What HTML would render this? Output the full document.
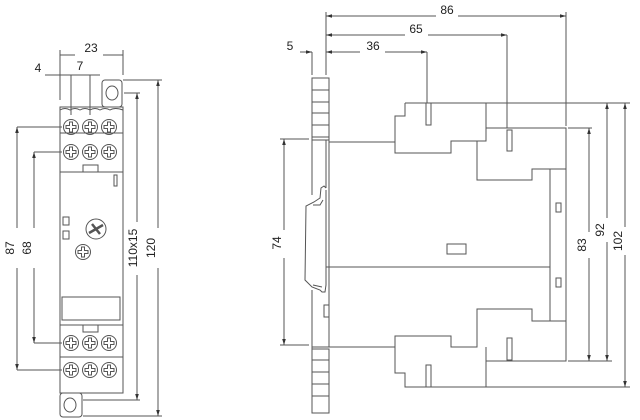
<!DOCTYPE html>
<html><head><style>html,body{margin:0;padding:0;background:#fff}svg{display:block}</style></head>
<body>
<svg width="640" height="420" viewBox="0 0 640 420" xmlns="http://www.w3.org/2000/svg" font-family="Liberation Sans, sans-serif" font-size="12" fill="none" stroke="#555" stroke-width="1">
<defs>
<marker id="a" viewBox="0 0 10 10" refX="10" refY="5" markerWidth="6" markerHeight="6" orient="auto-start-reverse"><path d="M0,2 L10,5 L0,8 z" fill="#333" stroke="none"/></marker>
<g id="s">
<circle cx="0" cy="0" r="7.5"/><path d="M-5,-1.5 H-1.5 V-5 H1.5 V-1.5 H5 V1.5 H1.5 V5 H-1.5 V1.5 H-5 Z"/>
</g>
</defs>
<!-- LEFT VIEW -->
<g>
<path d="M60,107 H123 V393 H60 Z"/>
<rect x="102" y="80" width="20" height="27" rx="3"/>
<ellipse cx="112" cy="93" rx="6" ry="7"/>
<rect x="60" y="393" width="22" height="24" rx="3"/>
<ellipse cx="70" cy="405" rx="6" ry="7"/>
<line x1="60" y1="133" x2="123" y2="133"/>
<line x1="60" y1="172" x2="123" y2="172"/>
<line x1="60" y1="325" x2="123" y2="325"/>
<line x1="60" y1="357" x2="123" y2="357"/>
<path d="M60,110 q5,-3 10,0 q5,-3 10,0 q5,-3 10,0 q5,-3 10,0 q5,-3 10,0 q5,-3 13,0"/>
<rect x="83" y="165" width="15" height="7"/>
<rect x="83" y="325" width="15" height="7"/>
<rect x="114" y="175" width="3" height="11"/>
<rect x="63" y="217" width="6" height="8"/>
<rect x="63" y="231" width="6" height="8"/>
<rect x="62" y="297" width="58" height="23"/>
<use href="#s" x="71" y="127"/><use href="#s" x="90" y="127"/><use href="#s" x="109" y="127"/>
<use href="#s" x="71" y="152"/><use href="#s" x="90" y="152"/><use href="#s" x="109" y="152"/>
<use href="#s" x="71" y="343"/><use href="#s" x="90" y="343"/><use href="#s" x="109" y="343"/>
<use href="#s" x="71" y="370"/><use href="#s" x="90" y="370"/><use href="#s" x="109" y="370"/>
<circle cx="96" cy="229" r="10"/>
<path d="M89,233 L103,225 M92,224 L100,234" stroke-width="2.5"/>
<use href="#s" x="83" y="252"/>
<!-- dims -->
<line x1="60" y1="50" x2="60" y2="100"/><line x1="123" y1="50" x2="123" y2="75"/>
<line x1="60" y1="55" x2="75" y2="55"/><line x1="103" y1="55" x2="123" y2="55"/>
<text x="91" y="52" text-anchor="middle" fill="#222" stroke="none">23</text>
<line x1="45" y1="75" x2="100" y2="75"/>
<line x1="71" y1="75" x2="71" y2="115"/><line x1="90" y1="75" x2="90" y2="115"/>
<text x="38" y="72" text-anchor="middle" fill="#222" stroke="none">4</text>
<text x="80" y="70" text-anchor="middle" fill="#222" stroke="none">7</text>
<line x1="17" y1="127" x2="17" y2="228" marker-start="url(#a)"/><line x1="17" y1="268" x2="17" y2="370" marker-end="url(#a)"/>
<line x1="17" y1="127" x2="62" y2="127"/><line x1="17" y1="370" x2="62" y2="370"/>
<line x1="34" y1="152" x2="34" y2="228" marker-start="url(#a)"/><line x1="34" y1="268" x2="34" y2="343" marker-end="url(#a)"/>
<line x1="34" y1="152" x2="62" y2="152"/><line x1="34" y1="343" x2="62" y2="343"/>
<text transform="translate(14,248) rotate(-90)" text-anchor="middle" fill="#222" stroke="none">87</text>
<text transform="translate(31,248) rotate(-90)" text-anchor="middle" fill="#222" stroke="none">68</text>
<line x1="137" y1="93" x2="137" y2="222" marker-start="url(#a)"/><line x1="137" y1="275" x2="137" y2="400" marker-end="url(#a)"/>
<line x1="124" y1="93" x2="140" y2="93"/><line x1="83" y1="400" x2="140" y2="400"/>
<line x1="158" y1="80" x2="158" y2="228" marker-start="url(#a)"/><line x1="158" y1="268" x2="158" y2="416" marker-end="url(#a)"/>
<line x1="123" y1="80" x2="162" y2="80"/><line x1="83" y1="416" x2="162" y2="416"/>
<text transform="translate(137,248) rotate(-90)" text-anchor="middle" fill="#222" stroke="none">110x15</text>
<text transform="translate(155,248) rotate(-90)" text-anchor="middle" fill="#222" stroke="none">120</text>
</g>
<!-- RIGHT VIEW -->
<g>
<path d="M312,78 H329 V140 H312 Z"/>
<path d="M312,90 H329 M312,102 H329 M312,113 H329 M312,125 H329 M312,137 H329"/>
<path d="M312,349 H329 V413 H312 Z"/>
<path d="M312,360 H329 M312,372 H329 M312,384 H329 M312,396 H329"/>
<path d="M312,140 V195 M326,140 V188"/>
<path d="M326,188 L324,186 L321,188 L320,198 L314,202 L306,206 L305,280 L312,287 L320,290 L322,292 L325,292 L326,285 V190"/>
<path d="M313,205 L320,205 L323,200 M313,285 L322,287" />
<path d="M312,290 V349 M329,140 V347"/>
<path d="M329,142 H395"/>
<path d="M405,103 H486 V128 H566 V361 H486 V387 H405 V373 H395 V336 H451 V347 H477 V309 H532 V321 H566"/>
<path d="M405,103 V116 H395 V153 H451 V141 H477 V180 H532 V169 H566"/>
<path d="M486,128 V141 H477 M486,347 V361"/>
<path d="M550,169 V321"/>
<path d="M326,267 H550"/>
<path d="M329,347 H395 M312,347 H329"/>
<rect x="426" y="103" width="5" height="22"/>
<rect x="507" y="130" width="5" height="21"/>
<rect x="507" y="338" width="5" height="22"/>
<rect x="426" y="365" width="5" height="22"/>
<rect x="556" y="203" width="5" height="9"/>
<rect x="556" y="278" width="5" height="9"/>
<rect x="324" y="305" width="5" height="12"/>
<rect x="447" y="244" width="19" height="10"/>
<!-- dims -->
<line x1="326" y1="12" x2="326" y2="75"/><line x1="312" y1="52" x2="312" y2="75"/>
<line x1="566" y1="12" x2="566" y2="126"/>
<line x1="326" y1="16" x2="436" y2="16" marker-start="url(#a)"/><line x1="458" y1="16" x2="566" y2="16" marker-end="url(#a)"/>
<text x="447" y="14" text-anchor="middle" fill="#222" stroke="none">86</text>
<line x1="326" y1="35" x2="405" y2="35" marker-start="url(#a)"/><line x1="428" y1="35" x2="507" y2="35" marker-end="url(#a)"/>
<line x1="507" y1="35" x2="507" y2="128"/>
<text x="416" y="33" text-anchor="middle" fill="#222" stroke="none">65</text>
<line x1="326" y1="52" x2="360" y2="52" marker-start="url(#a)"/><line x1="385" y1="52" x2="427" y2="52" marker-end="url(#a)"/>
<line x1="427" y1="52" x2="427" y2="103"/>
<text x="373" y="50" text-anchor="middle" fill="#222" stroke="none">36</text>
<line x1="300" y1="52" x2="312" y2="52" marker-end="url(#a)"/>
<text x="290" y="50" text-anchor="middle" fill="#222" stroke="none">5</text>
<line x1="284" y1="139" x2="284" y2="230" marker-start="url(#a)"/><line x1="284" y1="258" x2="284" y2="345" marker-end="url(#a)"/>
<line x1="280" y1="139" x2="309" y2="139"/><line x1="280" y1="345" x2="309" y2="345"/>
<text transform="translate(281,243) rotate(-90)" text-anchor="middle" fill="#222" stroke="none">74</text>
<line x1="568" y1="128" x2="592" y2="128"/><line x1="568" y1="361" x2="612" y2="361"/>
<line x1="486" y1="103" x2="630" y2="103"/><line x1="486" y1="387" x2="630" y2="387"/>
<line x1="589" y1="128" x2="589" y2="232" marker-start="url(#a)"/><line x1="589" y1="258" x2="589" y2="361" marker-end="url(#a)"/>
<line x1="607" y1="103" x2="607" y2="218" marker-start="url(#a)"/><line x1="607" y1="242" x2="607" y2="361" marker-end="url(#a)"/>
<line x1="625" y1="103" x2="625" y2="227" marker-start="url(#a)"/><line x1="625" y1="255" x2="625" y2="387" marker-end="url(#a)"/>
<text transform="translate(586,245) rotate(-90)" text-anchor="middle" fill="#222" stroke="none">83</text>
<text transform="translate(604,230) rotate(-90)" text-anchor="middle" fill="#222" stroke="none">92</text>
<text transform="translate(622,241) rotate(-90)" text-anchor="middle" fill="#222" stroke="none">102</text>
</g>
</svg>
</body></html>
